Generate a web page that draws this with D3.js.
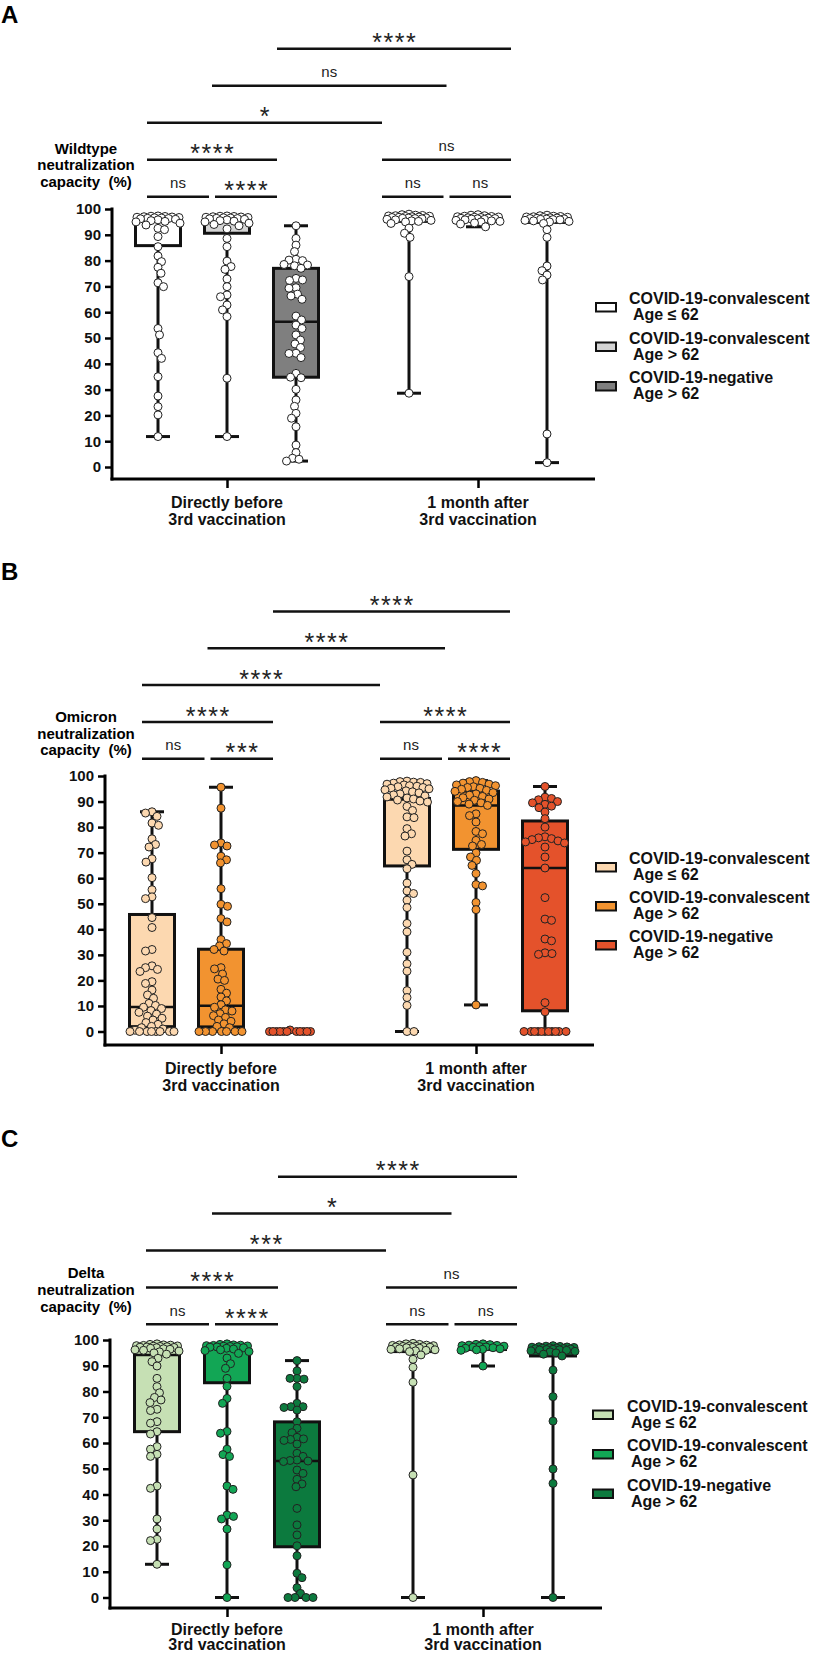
<!DOCTYPE html>
<html><head><meta charset="utf-8">
<script src="https://cdn.jsdelivr.net/npm/d3@7"></script>
<style>
body{margin:0;background:#fff}
svg{display:block}
text{font-family:"Liberation Sans",Arial,Helvetica,sans-serif}
</style>
</head><body>
<svg id="chart" width="817" height="1655"></svg>
<script>
// ---------------- shared labels ----------------
const yTicks = [0,10,20,30,40,50,60,70,80,90,100];
const timeLabels = [["Directly before","3rd vaccination"],["1 month after","3rd vaccination"]];
const legendLines = [["COVID-19-convalescent","Age \u2264 62"],["COVID-19-convalescent","Age > 62"],["COVID-19-negative","Age > 62"]];
// bracket: [from group, to group, level]
const bracketPairs = [[0,1,0],[1,2,0],[3,4,0],[4,5,0],[0,2,1],[3,5,1],[0,3,2],[1,4,3],[2,5,4]];

// ---------------- Panel A : Wildtype ----------------
const wtTitle = ["Wildtype","neutralization","capacity  (%)"];
const wtSig = ["ns","****","ns","ns","****","ns","*","ns","****"];
const wtColors = ["#ffffff","#d4d4d4","#7f7f7f"];
const wtDotColors = ["#ffffff","#ffffff","#ffffff"];
// [min, q1, median, q3, max]
const wtStats = [[11.8,85.8,95.8,96.3,97.3],[11.8,90.6,96,96.5,97.3],[2.3,34.8,56.3,77,93.5],
                 [28.6,95.2,96.6,97.3,98],[93.1,95.5,96.4,97,97.8],[1.7,94.8,96,96.8,97.6]];
const wtBeforeConvLe62 = [97.3,97.2,97.1,97.0,96.9,96.8,96.7,96.6,96.5,96.4,96.3,96.2,96.0,95.8,95.5,95.2,95.0,94.5,93.8,92.5,92.0,89.3,85.4,81.8,79.6,77.4,75.1,71.4,69.9,53.7,51.2,44.3,42.1,35.0,27.5,23.4,20.2,11.8];
const wtBeforeConvGt62 = [97.3,97.2,97.1,97.0,96.9,96.8,96.7,96.6,96.5,96.4,96.3,96.2,96.0,95.8,95.5,95.3,95.0,94.5,94.0,93.5,92.3,88.6,85.4,79.8,77.7,76.6,72.9,69.9,66.7,66.0,62.8,60.9,58.3,34.4,11.8];
const wtBeforeNeg = [93.5,88.6,86.0,83.5,80.5,80.2,80.0,78.5,78.3,78.0,77.0,73.1,72.5,72.3,69.5,69.3,67.0,66.3,65.0,58.5,57.0,55.0,53.7,51.2,49.2,47.7,46.3,44.1,44.0,42.4,36.3,34.8,34.6,30.1,26.0,23.5,20.8,18.9,15.6,8.5,5.6,3.4,3.0,2.3];
const wtAfterConvLe62 = [98.0,97.8,97.6,97.5,97.4,97.3,97.2,97.1,97.0,96.9,96.8,96.7,96.6,96.5,96.4,96.3,96.2,96.0,95.8,95.6,95.4,95.2,95.0,94.4,92.6,90.6,89.0,73.8,28.6];
const wtAfterConvGt62 = [97.8,97.6,97.4,97.2,97.1,97.0,96.9,96.8,96.7,96.6,96.5,96.4,96.3,96.2,96.1,96.0,95.8,95.6,95.4,95.2,95.0,94.6,94.2,93.1];
const wtAfterNeg = [97.6,97.4,97.2,97.1,97.0,96.9,96.8,96.7,96.6,96.5,96.4,96.3,96.2,96.1,96.0,95.9,95.8,95.6,95.4,95.2,95.0,94.4,92.0,89.0,77.9,76.1,74.4,72.5,12.8,1.7];

// ---------------- Panel B : Omicron ----------------
const omTitle = ["Omicron","neutralization","capacity  (%)"];
const omSig = ["ns","***","ns","****","****","****","****","****","****"];
const omColors = ["#fcd8b0","#f29330","#e4522b"];
const omDotColors = ["#fcd8b0","#f29330","#e4522b"];
const omStats = [[0,1.9,9.6,45.8,86],[0,1.8,10.1,32.2,95.6],[0,0,0,0,0],
                 [0,64.8,90.8,91.2,98],[10.4,71.3,88.5,94.1,98.2],[0,8.1,64,82.4,95.9]];
const omBeforeConvLe62 = [86.0,85.5,84.2,81.6,80.7,75.4,73.2,72.2,67.6,66.3,60.2,55.5,52.7,52.0,44.6,40.7,32.1,31.5,25.7,25.0,24.3,23.5,19.5,18.8,16.2,14.3,13.0,11.0,10.2,9.5,9.0,8.2,7.5,6.8,6.0,5.2,4.5,3.5,2.8,2.0,1.5,1.0,0.5,0,0,0,0,0,0,0,0];
const omBeforeConvGt62 = [95.6,87.4,73.8,73.0,72.6,68.6,67.2,66.0,55.9,49.8,49.0,44.2,42.9,36.0,34.4,33.5,32.1,31.5,25.0,24.5,22.5,20.5,20.0,16.5,15.0,13.5,12.0,10.5,9.5,8.5,8.0,7.0,6.2,5.5,4.5,4.0,3.0,2.0,1.5,0,0,0,0,0,0,0];
const omBeforeNeg = [0.6,0,0,0,0,0,0,0,0,0,0,0];
const omAfterConvLe62 = [98.0,97.8,97.6,97.5,97.2,97.0,96.8,96.5,96.2,96.0,95.8,95.5,95.2,95.0,94.6,94.2,93.8,93.4,93.0,92.6,92.2,91.8,91.4,91.0,90.6,90.2,89.8,88.1,86.5,84.0,83.7,79.4,77.4,76.5,70.6,67.2,65.4,63.7,58.1,55.0,54.0,51.4,48.5,42.3,39.0,31.0,26.5,23.6,16.0,13.3,10.2,0,0];
const omAfterConvGt62 = [98.2,97.8,97.5,97.2,96.8,96.5,96.2,95.8,95.5,95.2,94.8,94.4,94.0,93.5,93.0,92.5,92.0,91.5,91.0,90.5,90.0,89.5,89.0,88.5,85.2,84.5,82.0,78.3,77.4,74.8,73.2,72.6,69.9,68.3,67.0,65.0,61.8,57.5,57.0,50.5,47.7,10.4];
const omAfterNeg = [95.9,91.7,91.2,90.7,90.0,89.5,88.9,88.2,87.6,85.9,83.3,80.0,76.2,75.8,75.5,75.1,74.6,74.2,73.8,72.2,68.3,64.0,52.4,44.0,43.5,36.2,35.5,30.8,30.5,30.2,11.3,7.7,0,0,0,0,0,0,0,0,0,0,0];

// ---------------- Panel C : Delta ----------------
const deTitle = ["Delta","neutralization","capacity  (%)"];
const deSig = ["ns","****","ns","ns","****","ns","***","*","****"];
const deColors = ["#c6e0b4","#12a655","#0c7a3e"];
const deDotColors = ["#c6e0b4","#12a655","#0c7a3e"];
const deStats = [[12.9,64.4,94.2,97.7,98.5],[0,83.4,97,97.6,98.5],[0,19.7,53,68.2,92],
                 [0,95.5,97,98,98.7],[89.9,96.3,97.2,98,98.5],[0,93.8,96.5,97.4,97.8]];
const deBeforeConvLe62 = [98.5,98.3,98.1,98.0,97.9,97.8,97.7,97.6,97.5,97.4,97.3,97.2,97.1,97.0,96.8,96.6,96.4,96.2,96.0,95.7,95.4,95.0,94.5,92.9,91.6,89.9,85.1,81.9,79.5,77.7,76.7,75.7,73.1,72.6,68.3,67.7,64.4,63.5,58.6,57.6,55.6,54.8,43.3,42.4,30.5,26.6,22.6,22.1,12.9];
const deBeforeConvGt62 = [98.5,98.3,98.1,98.0,97.9,97.8,97.7,97.6,97.5,97.4,97.3,97.2,97.0,96.8,96.5,96.2,95.9,95.5,94.8,93.0,90.8,89.0,85.1,82.0,77.3,75.4,64.5,63.8,57.6,55.5,54.8,43.3,42.0,32.0,31.5,30.5,26.6,12.7,0];
const deBeforeNeg = [92.0,88.0,85.1,85.1,84.8,81.9,75.4,74.1,74.1,73.8,72.8,68.3,65.7,64.0,62.2,61.6,61.4,61.0,59.6,56.0,54.8,53.4,53.2,53.0,52.8,49.5,48.2,45.9,44.1,43.0,34.6,28.2,24.3,20.1,16.2,9.4,7.7,3.8,1.6,0,0,0,0];
const deAfterConvLe62 = [98.7,98.5,98.3,98.1,98.0,97.9,97.8,97.7,97.6,97.5,97.4,97.3,97.2,97.1,97.0,96.8,96.6,96.4,96.2,96.0,95.8,95.5,94.2,92.5,89.4,83.6,47.6,0];
const deAfterConvGt62 = [98.5,98.3,98.2,98.0,97.9,97.8,97.6,97.5,97.3,97.2,97.0,96.8,96.6,96.4,96.2,96.0,89.9];
const deAfterNeg = [97.8,97.6,97.5,97.4,97.3,97.2,97.1,97.0,96.9,96.8,96.7,96.6,96.5,96.4,96.3,96.2,96.1,96.0,95.8,95.6,95.4,95.0,94.5,93.8,88.3,78.0,68.5,49.9,44.3,0];

// ---------------- layout (positions only) ----------------
const panels = [
 {letter:"A", letterY:23, title:wtTitle, sig:wtSig, colors:wtColors, dotColors:wtDotColors, stats:wtStats,
  values:[wtBeforeConvLe62,wtBeforeConvGt62,wtBeforeNeg,wtAfterConvLe62,wtAfterConvGt62,wtAfterNeg],
  axisX:112, y0:467, y100:209, xAxisY:479, xEnd:595, c1:227, c2:478, inner:69,
  bL:[147,277], bR:[382,511], bBase:12.3, bStep:37, titleOff:[-55,-39,-22],
  legX:596, legTX:629, legY:304, legStep:39.5, xlab:[29,46]},
 {letter:"B", letterY:580, title:omTitle, sig:omSig, colors:omColors, dotColors:omDotColors, stats:omStats,
  values:[omBeforeConvLe62,omBeforeConvGt62,omBeforeNeg,omAfterConvLe62,omAfterConvGt62,omAfterNeg],
  axisX:105, y0:1031.5, y100:776, xAxisY:1045, xEnd:594, c1:221, c2:476, inner:69,
  bL:[142,273], bR:[380,510], bBase:17.3, bStep:36.8, titleOff:[-54,-37,-21],
  legX:596, legTX:629, legY:864, legStep:39, xlab:[29,46]},
 {letter:"C", letterY:1147, title:deTitle, sig:deSig, colors:deColors, dotColors:deDotColors, stats:deStats,
  values:[deBeforeConvLe62,deBeforeConvGt62,deBeforeNeg,deAfterConvLe62,deAfterConvGt62,deAfterNeg],
  axisX:110, y0:1597.5, y100:1340, xAxisY:1608, xEnd:602, c1:227, c2:483, inner:70,
  bL:[146,278], bR:[386,517], bBase:15.7, bStep:36.9, titleOff:[-62,-45,-28],
  legX:593, legTX:627, legY:1411.5, legStep:39.5, xlab:[27,42]}
];

const svg = d3.select("#chart");
const BOX_W = 45, CAP_W = 24, DOT_R = 4, SWARM_HALF = 22;

function swarm(vals, y){
  const pts = vals.map(v=>({v, py:y(v)})).sort((a,b)=>a.py-b.py);
  const placed = [];
  const minD = 2*DOT_R*0.82;
  pts.forEach((p,idx)=>{
    let best = 0, bestScore = -1, done = false;
    const sign = idx % 2 ? -1 : 1;
    for (let k=0; k<=SWARM_HALF && !done; k+=0.5){
      const cands = k===0 ? [0] : [sign*k, -sign*k];
      for (const s of cands){
        let md = Infinity;
        for (const q of placed){ const d = Math.hypot(q.dx-s, q.py-p.py); if (d<md) md=d; }
        if (md >= minD){ best = s; done = true; break; }
        if (md > bestScore){ bestScore = md; best = s; }
      }
    }
    p.dx = best; placed.push(p);
  });
  return placed;
}

function drawPanel(p){
  const g = svg.append("g");
  const y = d3.scaleLinear().domain([0,100]).range([p.y0, p.y100]);
  const xt = d3.scaleLinear().domain([0,1]).range([p.c1, p.c2]);
  const xi = d3.scaleLinear().domain([-1,1]).range([-p.inner, p.inner]);
  const bxL = d3.scaleLinear().domain([0,2]).range(p.bL);
  const bxR = d3.scaleLinear().domain([3,5]).range(p.bR);
  const bx = i => i<3 ? bxL(i) : bxR(i);
  const cx = gi => xt(gi<3?0:1) + xi(gi%3-1);

  // panel letter
  g.append("text").attr("x",1).attr("y",p.letterY).text(p.letter)
    .style("font-size","24px").style("font-weight","bold");

  // y title
  g.append("g").selectAll("text").data(p.title).join("text")
    .attr("x",86).attr("y",(d,i)=>p.y100+p.titleOff[i]).attr("text-anchor","middle")
    .style("font-size","15px").style("font-weight","bold").style("white-space","pre").text(d=>d);

  // y axis
  const ya = g.append("g").attr("transform",`translate(${p.axisX},0)`)
    .call(d3.axisLeft(y).tickValues(yTicks).tickSize(7).tickPadding(4).tickFormat(d3.format("d")));
  ya.select(".domain").remove();
  ya.selectAll(".tick line").attr("stroke","#000").attr("stroke-width",2.5);
  ya.selectAll(".tick text").attr("fill","#111").style("font-size","15px").style("font-weight","bold");
  g.append("line").attr("x1",p.axisX).attr("x2",p.axisX).attr("y1",y(100)-1.5).attr("y2",p.xAxisY+1.5)
    .attr("stroke","#000").attr("stroke-width",3);

  // x axis
  const xa = g.append("g").attr("transform",`translate(0,${p.xAxisY})`)
    .call(d3.axisBottom(xt).tickValues([0,1]).tickSize(9).tickFormat(""));
  xa.select(".domain").remove();
  xa.selectAll(".tick line").attr("stroke","#000").attr("stroke-width",2.5);
  g.append("line").attr("x1",p.axisX-1.5).attr("x2",p.xEnd).attr("y1",p.xAxisY).attr("y2",p.xAxisY)
    .attr("stroke","#000").attr("stroke-width",3);
  timeLabels.forEach((lines,t)=>{
    lines.forEach((s,j)=>{
      g.append("text").attr("x",xt(t)).attr("y",p.xAxisY+p.xlab[j]).attr("text-anchor","middle")
        .style("font-size","16px").style("font-weight","bold").attr("fill","#111").text(s);
    });
  });

  // boxes
  p.stats.forEach((s,gi)=>{
    const c = cx(gi), col = p.colors[gi%3];
    const [mn,q1,md,q3,mx] = s;
    g.append("line").attr("x1",c).attr("x2",c).attr("y1",y(mn)).attr("y2",y(mx))
      .attr("stroke","#111").attr("stroke-width",3);
    [mn,mx].forEach(v=>g.append("line").attr("x1",c-CAP_W/2).attr("x2",c+CAP_W/2)
      .attr("y1",y(v)).attr("y2",y(v)).attr("stroke","#111").attr("stroke-width",3));
    g.append("rect").attr("x",c-BOX_W/2).attr("width",BOX_W)
      .attr("y",y(q3)).attr("height",Math.max(0,y(q1)-y(q3)))
      .attr("fill",col).attr("stroke","#111").attr("stroke-width",3);
    g.append("line").attr("x1",c-BOX_W/2-1).attr("x2",c+BOX_W/2+1)
      .attr("y1",y(md)).attr("y2",y(md)).attr("stroke","#111").attr("stroke-width",2.5);
  });

  // dots
  p.values.forEach((vals,gi)=>{
    const c = cx(gi);
    g.append("g").selectAll("circle").data(swarm(vals,y)).join("circle")
      .attr("cx",d=>c+d.dx).attr("cy",d=>d.py).attr("r",DOT_R)
      .attr("fill",p.dotColors[gi%3]).attr("stroke","#222").attr("stroke-width",1);
  });

  // significance brackets
  bracketPairs.forEach(([a,b,lv],i)=>{
    const x1 = bx(a) + (lv===0 && (a===1||a===4) ? 3 : 0);
    const x2 = bx(b) - (lv===0 && (b===1||b===4) ? 3 : 0);
    const yl = p.y100 - p.bBase - lv*p.bStep;
    g.append("line").attr("x1",x1).attr("x2",x2).attr("y1",yl).attr("y2",yl)
      .attr("stroke","#111").attr("stroke-width",2.5);
    const lab = p.sig[i];
    const t = g.append("text").attr("text-anchor","middle").attr("fill","#222").text(lab);
    if (lab==="ns"){
      t.attr("x",(x1+x2)/2).attr("y",yl-8.6).style("font-size","15px");
    } else {
      t.attr("x",(x1+x2)/2+0.8).attr("y",yl+2.6).style("font-size","25px").style("letter-spacing","1.6px");
    }
  });

  // legend
  legendLines.forEach((lines,i)=>{
    const by = p.legY + i*p.legStep;
    g.append("rect").attr("x",p.legX).attr("y",by-1).attr("width",20).attr("height",8.5)
      .attr("fill",p.colors[i]).attr("stroke","#111").attr("stroke-width",2);
    g.append("text").attr("x",p.legTX).attr("y",by).style("font-size","16px").style("font-weight","bold")
      .attr("fill","#111").text(lines[0]);
    g.append("text").attr("x",p.legTX+4).attr("y",by+16).style("font-size","16px").style("font-weight","bold")
      .attr("fill","#111").text(lines[1]);
  });
}

panels.forEach(drawPanel);
</script>
</body></html>
